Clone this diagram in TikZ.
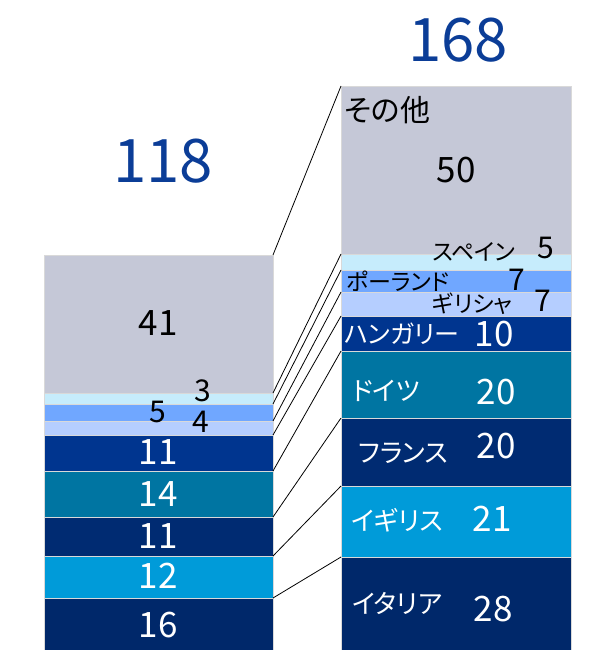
\documentclass[tikz,border=0pt]{standalone}
\usepackage{fontspec}
\setmainfont{Noto Sans CJK JP}[CharacterWidth=AlternateProportional]
\definecolor{cgrey}{HTML}{C5C8D7}
\definecolor{clcyan}{HTML}{C6ECFC}
\definecolor{cmblue}{HTML}{70A7FF}
\definecolor{clblue}{HTML}{B5CEFF}
\definecolor{chung}{HTML}{00358F}
\definecolor{cteal}{HTML}{0075A2}
\definecolor{cnavy}{HTML}{002B72}
\definecolor{ccyan}{HTML}{009BD9}
\definecolor{cnavyb}{HTML}{00286A}
\definecolor{ctitle}{HTML}{0B3D97}
\tikzset{
  seg/.style={draw=white!85!black, line width=0.3pt, inner sep=0pt, outer sep=0pt, anchor=north west, minimum width=#1},
  segL/.style={seg=229pt},
  segR/.style={seg=230pt},
  conn/.style={draw=black, line width=0.8pt},
  total/.style={text=ctitle, font=\fontsize{60}{60}\selectfont, inner sep=0pt},
  numb/.style={font=\fontsize{35}{35}\selectfont, inner sep=0pt},
  nums/.style={font=\fontsize{30}{30}\selectfont, inner sep=0pt},
  labb/.style={font=\fontsize{26}{26}\selectfont, inner sep=0pt, anchor=west},
  labs/.style={font=\fontsize{23}{23}\selectfont, inner sep=0pt, anchor=west},
}
\begin{document}
\begin{tikzpicture}[x=1pt,y=-1pt]
\useasboundingbox (0,0) rectangle (598,650);
% left bar
\node[segL, fill=cgrey,  minimum height=138pt] (L9) at (44,255) {};
\node[segL, fill=clcyan, minimum height=11pt]  (L8) at (44,393) {};
\node[segL, fill=cmblue, minimum height=17pt]  (L7) at (44,404) {};
\node[segL, fill=clblue, minimum height=14pt]  (L6) at (44,421) {};
\node[segL, fill=chung,  minimum height=36pt]  (L5) at (44,435) {};
\node[segL, fill=cteal,  minimum height=46pt]  (L4) at (44,471) {};
\node[segL, fill=cnavy,  minimum height=39pt]  (L3) at (44,517) {};
\node[segL, fill=ccyan,  minimum height=42pt]  (L2) at (44,556) {};
\node[segL, fill=cnavyb, minimum height=52pt]  (L1) at (44,598) {};
% right bar
\node[segR, fill=cgrey,  minimum height=168pt] (R9) at (341,86) {};
\node[segR, fill=clcyan, minimum height=16pt]  (R8) at (341,254) {};
\node[segR, fill=cmblue, minimum height=22pt]  (R7) at (341,270) {};
\node[segR, fill=clblue, minimum height=24pt]  (R6) at (341,292) {};
\node[segR, fill=chung,  minimum height=35pt]  (R5) at (341,316) {};
\node[segR, fill=cteal,  minimum height=67pt]  (R4) at (341,351) {};
\node[segR, fill=cnavy,  minimum height=68pt]  (R3) at (341,418) {};
\node[segR, fill=ccyan,  minimum height=71pt]  (R2) at (341,486) {};
\node[segR, fill=cnavyb, minimum height=93pt]  (R1) at (341,557) {};
% connectors
\foreach \i in {1,...,9} {\draw[conn] (L\i.north east) -- (R\i.north west);}
% totals
\node[total] (t118) at (163,161) {118};
\node[total] (t168) at (458,40) {168};
% left numbers
\node[numb] (n41) at (158,323) {41};
\node[nums] (n3) at (203,391) {3};
\node[nums] (n5) at (158,412) {5};
\node[nums] (n4) at (201,422) {4};
\node[numb, text=white] (n11a) at (158,452) {11};
\node[numb, text=white] (n14) at (158,494) {14};
\node[numb, text=white] (n11b) at (158,536) {11};
\node[numb, text=white] (n12) at (158,576) {12};
\node[numb, text=white] (n16) at (158,625) {16};
% right labels
\node[labb, font=\fontsize{30}{30}\selectfont] (lsono) at (344,110) {その他};
\node[numb] (r50) at (456,170) {50};
\node[labs] (lesp) at (432,252) {スペイン};
\node[nums] (r5) at (546,248) {5};
\node[labs] (lpol) at (346,281) {ポーランド};
\node[nums] (r7a) at (517,280) {7};
\node[labs] (lgre) at (432,304) {ギリシャ};
\node[nums] (r7b) at (543,301) {7};
\node[labs, text=white, font=\fontsize{25}{25}\selectfont] (lhun) at (344,334) {ハンガリー};
\node[numb, text=white] (r10) at (494,334) {10};
\node[labb, text=white] (lger) at (352,391) {ドイツ};
\node[numb, text=white] (r20a) at (496,392) {20};
\node[labb, text=white] (lfra) at (358,453) {フランス};
\node[numb, text=white] (r20b) at (496,446) {20};
\node[labb, text=white] (lgbr) at (351,520) {イギリス};
\node[numb, text=white] (r21) at (492,519) {21};
\node[labb, text=white] (lita) at (352,603) {イタリア};
\node[numb, text=white] (r28) at (493,609) {28};
\end{tikzpicture}
\end{document}
